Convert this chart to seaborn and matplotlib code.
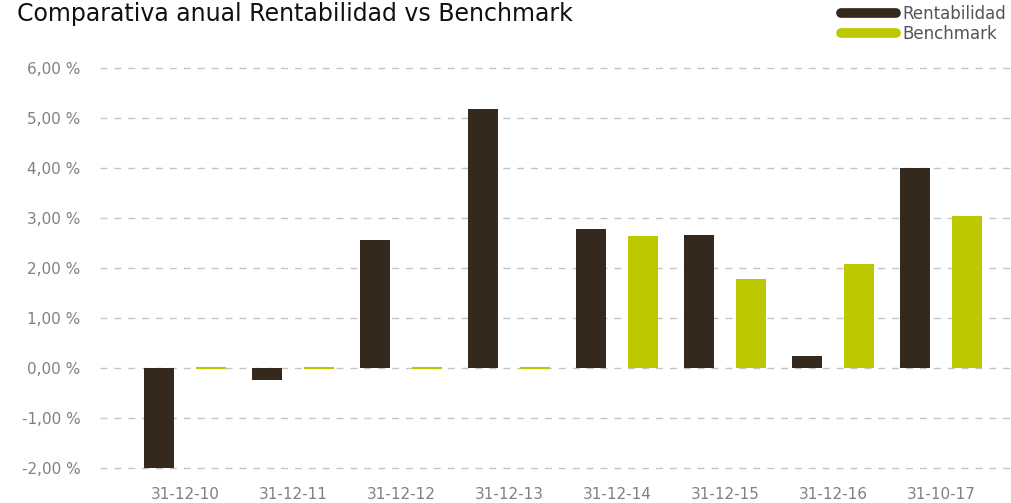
import pandas as pd
import matplotlib.pyplot as plt
import seaborn as sns
from matplotlib.lines import Line2D
from matplotlib.ticker import FuncFormatter, MultipleLocator

fechas = ['31-12-10', '31-12-11', '31-12-12', '31-12-13',
          '31-12-14', '31-12-15', '31-12-16', '31-10-17']
rentabilidad = [-2.00, -0.24, 2.56, 5.18, 2.78, 2.66, 0.24, 4.00]
benchmark = [0.0, 0.0, 0.0, 0.0, 2.64, 1.78, 2.08, 3.04]
series = ['Rentabilidad', 'Benchmark']
colores = ['#35281d', '#bcc900']

df = pd.DataFrame({
    'fecha': fechas * 2,
    'serie': [series[0]] * len(fechas) + [series[1]] * len(fechas),
    'valor': rentabilidad + benchmark,
})

sns.set_style('white')
plt.rcParams['font.family'] = ['DejaVu Sans']

fig = plt.figure(figsize=(10.11, 5.03), dpi=100)
ax = fig.add_axes([0.099, 0.0696, 0.9, 0.7955])

sns.barplot(data=df, x='fecha', y='valor', hue='serie', order=fechas,
            hue_order=series, palette=colores, width=0.96, gap=0.42,
            saturation=1, legend=False, ax=ax, zorder=3)

# zero-height benchmark bars are drawn as a thin line
for p in ax.patches:
    if p.get_height() == 0:
        p.set_edgecolor(colores[1])
        p.set_linewidth(1.5)
    else:
        p.set_linewidth(0)

ax.set_ylim(-2, 6)
ax.set_xlim(-0.787, 7.64)
ax.yaxis.set_major_locator(MultipleLocator(1))
ax.yaxis.set_major_formatter(FuncFormatter(lambda v, _: f'{v:.2f} %'.replace('.', ',')))
ax.grid(axis='y', color='#c4c4c4', linestyle=(0, (5, 5)), linewidth=1)
for gl in ax.get_ygridlines():
    gl.set_clip_on(False)
ax.set_axisbelow(True)
for s in ax.spines.values():
    s.set_visible(False)
ax.tick_params(axis='both', length=0, labelsize=11, labelcolor='#808080')
ax.tick_params(axis='y', pad=14)
ax.tick_params(axis='x', pad=14)
ax.set_xlabel('')
ax.set_ylabel('')

fig.text(0.017, 0.958, 'Comparativa anual Rentabilidad vs Benchmark',
         fontsize=17, color='#111111', ha='left', va='baseline')

handles = [Line2D([0], [0], color=c, linewidth=7, solid_capstyle='round') for c in colores]
fig.legend(handles, series, loc='upper right', bbox_to_anchor=(1.005, 1.01),
           frameon=False, fontsize=12, labelcolor='#555555', handlelength=3.3,
           handletextpad=0.4, labelspacing=0.1, borderaxespad=0.2)

plt.savefig('out.png', dpi=100)
plt.close()
